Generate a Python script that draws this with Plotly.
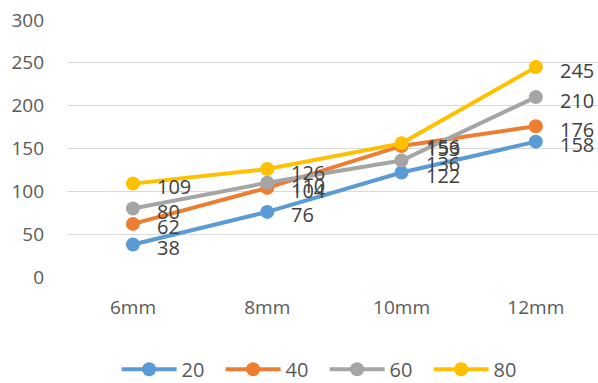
import plotly.graph_objects as go

categories = ["6mm", "8mm", "10mm", "12mm"]
series_names = ["20", "40", "60", "80"]
s20 = [38, 76, 122, 158]
s40 = [62, 104, 153, 176]
s60 = [80, 110, 136, 210]
s80 = [109, 126, 156, 245]
colors = ["#5B9BD5", "#ED7D31", "#A5A5A5", "#FFC000"]
y_ticks = [0, 50, 100, 150, 200, 250, 300]

font_family = "Open Sans, Liberation Sans, sans-serif"
x_pos = list(range(len(categories)))

fig = go.Figure()
for name, vals, col in zip(series_names, [s20, s40, s60, s80], colors):
    fig.add_trace(go.Scatter(
        x=x_pos, y=vals, name=name,
        mode="lines+markers",
        line=dict(color=col, width=4),
        marker=dict(color=col, size=14),
        cliponaxis=False,
    ))

# value labels to the right of each point
for vals in [s20, s40, s60, s80]:
    for xi, v in zip(x_pos, vals):
        fig.add_annotation(
            x=xi, y=v, text=str(v), showarrow=False,
            xanchor="left", yanchor="middle", xshift=22, yshift=-3,
            font=dict(size=20, color="#404040", family=font_family),
        )

fig.update_layout(
    width=598, height=383,
    margin=dict(l=67, r=0, t=20, b=106, autoexpand=False),
    paper_bgcolor="white", plot_bgcolor="white",
    font=dict(family=font_family, color="#595959", size=19),
    xaxis=dict(
        tickmode="array", tickvals=x_pos, ticktext=categories,
        range=[-0.491, 3.463], showgrid=False, zeroline=False, showline=False,
        tickfont=dict(size=19, color="#595959"), ticklen=0,
        ticklabelstandoff=17,
    ),
    yaxis=dict(
        range=[0, 300], tickvals=y_ticks, showgrid=True, gridcolor="#D9D9D9",
        gridwidth=1, zeroline=False, showline=False,
        tickfont=dict(size=19, color="#595959"), ticklen=0, ticks="",
        ticklabelstandoff=22,
    ),
    legend=dict(
        orientation="h", xref="container", yref="container",
        x=0.195, xanchor="left", y=0.036, yanchor="middle",
        font=dict(size=20, color="#595959"), itemwidth=55,
        entrywidth=34,
    ),
)

fig.write_html("out.html")
